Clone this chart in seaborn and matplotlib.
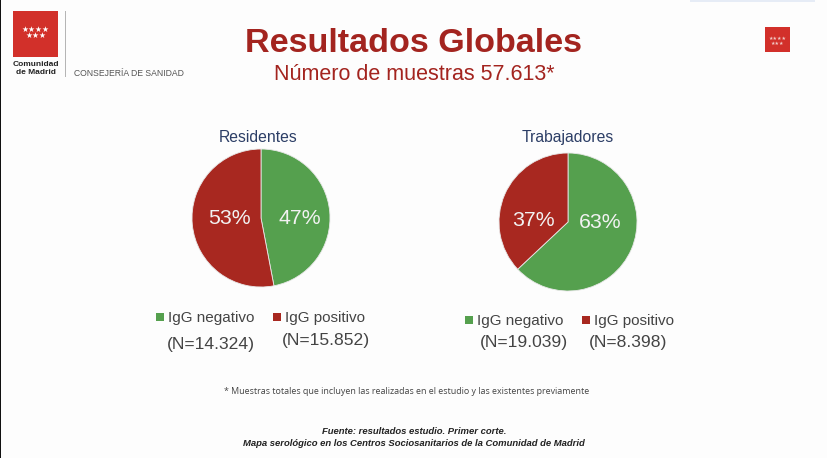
import matplotlib
matplotlib.use('Agg')
import matplotlib.pyplot as plt
from matplotlib.patches import Rectangle
import seaborn as sns

sns.set_theme(style="white")
plt.rcParams['font.family'] = ['Liberation Sans', 'DejaVu Sans']

# data
groups = ['Residentes', 'Trabajadores']
categories = ['IgG negativo', 'IgG positivo']
residentes_pct = [47, 53]
trabajadores_pct = [63, 37]
residentes_n = ['(N=14.324)', '(N=15.852)']
trabajadores_n = ['(N=19.039)', '(N=8.398)']

# colors
green = '#55a04e'
dark_red = '#a82820'
title_red = '#a3241f'
navy = '#2c3e66'
grey = '#444444'
logo_red = '#d2302a'
palette = sns.color_palette([green, dark_red])

W, H = 828, 458
fig = plt.figure(figsize=(W / 100, H / 100), dpi=100, facecolor='#fdfdfd')


def fx(x):
    return x / W


def fy(y):
    return 1 - y / H


def put(x, y, s, **kw):
    kw.setdefault('ha', 'center')
    kw.setdefault('va', 'center')
    fig.text(fx(x), fy(y + 2), s, **kw)


def box(x0, y0, x1, y1, color):
    fig.add_artist(Rectangle((fx(x0), fy(y1)), (x1 - x0) / W, (y1 - y0) / H,
                             transform=fig.transFigure, facecolor=color,
                             edgecolor='none'))


def draw_pie(cx, cy, r, values):
    ax = fig.add_axes([fx(cx - r), fy(cy + r), 2 * r / W, 2 * r / H])
    wedges, texts = ax.pie(values, colors=palette, startangle=90, counterclock=False,
                           radius=1, wedgeprops={'linewidth': 0.6, 'edgecolor': '#e8e8e8'})
    ax.set_xlim(-1, 1)
    ax.set_ylim(-1, 1)
    ax.set_aspect('equal')
    return ax


# black strip on the left edge of the screenshot
box(0, 0, 1.5, H, '#111111')
box(690, 0, 815, 1.5, '#e6ecf6')

# header logo
box(13, 11, 58, 57, logo_red)
put(35.5, 28, '★★★★', color='white', fontsize=5.6)
put(35.5, 34, '★★★', color='white', fontsize=5.6)
put(35.5, 63, 'Comunidad', fontsize=6, fontweight='bold', color='#222222')
put(35.5, 71, 'de Madrid', fontsize=6, fontweight='bold', color='#222222')
box(65, 11, 66, 77, '#b5b5b5')
put(74, 71, 'CONSEJERÍA DE SANIDAD', ha='left', fontsize=6.2, color='#555555')

box(765, 27, 790, 52, logo_red)
put(777.5, 36, '★★★★', color='#f0c8c4', fontsize=3.6)
put(777.5, 41, '★★★', color='#f0c8c4', fontsize=3.6)

# titles
put(414, 42, 'Resultados Globales', fontsize=24.6, fontweight='bold', color=title_red)
put(414, 73, 'Número de muestras 57.613*', fontsize=15.5, color=title_red)

put(258, 135, groups[0], fontsize=11.3, color=navy)
put(568, 136, groups[1], fontsize=11.3, color=navy)

# pies
draw_pie(261, 218, 69, residentes_pct)
draw_pie(568, 222, 69, trabajadores_pct)

put(229, 216, f'{residentes_pct[1]}%', fontsize=15.3, color='#f2f2f2')
put(300, 216, f'{residentes_pct[0]}%', fontsize=15.3, color='#f2f2f2')
put(533, 218, f'{trabajadores_pct[1]}%', fontsize=15.3, color='#f2f2f2')
put(600, 220, f'{trabajadores_pct[0]}%', fontsize=15.3, color='#f2f2f2')

# legends, drawn by hand like the slide
box(156, 313, 164, 321, green)
put(168, 316, categories[0], ha='left', fontsize=11, color=grey)
box(273, 313, 281, 321, dark_red)
put(285, 316, categories[1], ha='left', fontsize=11, color=grey)
put(167, 342, residentes_n[0], ha='left', fontsize=12.6, color=grey)
put(282, 339, residentes_n[1], ha='left', fontsize=12.6, color=grey)

box(465, 316, 473, 324, green)
put(477, 319, categories[0], ha='left', fontsize=11, color=grey)
box(582, 316, 590, 324, dark_red)
put(594, 319, categories[1], ha='left', fontsize=11, color=grey)
put(480, 340, trabajadores_n[0], ha='left', fontsize=12.6, color=grey)
put(589, 340, trabajadores_n[1], ha='left', fontsize=12.6, color=grey)

# footnotes
put(407, 390, '* Muestras totales que incluyen las realizadas en el estudio y las existentes previamente',
    fontsize=6.4, color=grey, family=['Open Sans', 'DejaVu Sans'])
put(414, 430, 'Fuente: resultados estudio. Primer corte.', fontsize=6.8,
    fontweight='bold', fontstyle='italic', color='#222222')
put(414, 441, 'Mapa serológico en los Centros Sociosanitarios de la Comunidad de Madrid', fontsize=6.8,
    fontweight='bold', fontstyle='italic', color='#222222')

fig.savefig('out.png', dpi=100, facecolor=fig.get_facecolor())
